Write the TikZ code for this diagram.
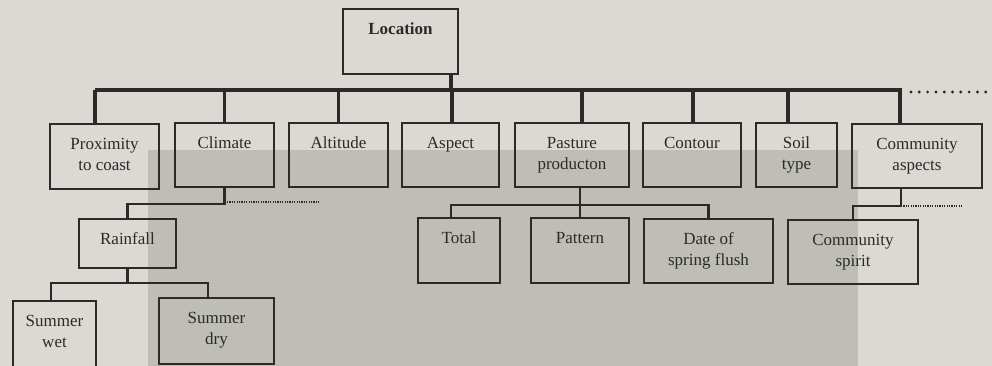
\documentclass[tikz,border=0pt]{standalone}
\usepackage{fontspec}
\setmainfont{Liberation Serif}
\definecolor{ink}{HTML}{2B2A27}
\definecolor{paper}{HTML}{DAD9D3}
\definecolor{panel}{HTML}{BEBEB7}
\tikzset{
	box/.style={draw=ink, text=ink, line width=1.9pt, anchor=north, inner xsep=2pt, inner ysep=0pt,
		align=center, text height=26pt, font=\fontsize{17}{21}\selectfont},
	twoline/.style={box, text height=47pt},
	bus/.style={draw=ink, line width=3.8pt},
	link/.style={draw=ink, line width=2.2pt},
	bigdots/.style={ink, line width=3.2pt, line cap=round, dash pattern=on 0pt off 8.3pt},
	smalldots/.style={ink, line width=1.6pt, dash pattern=on 1.2pt off 1.2pt},
}
\begin{document}
\begin{tikzpicture}[x=1pt, y=-1pt]
	\useasboundingbox (0,0) rectangle (992,366);
	\fill[paper] (0,0) rectangle (992,366);
	\fill[panel] (148,150) rectangle (858,366);

	% top
	\node[box, minimum width=115pt, text depth=39pt, font=\fontsize{17}{21}\selectfont\bfseries] (loc) at (400.5,8) {Location};

	% first row
	\node[twoline, minimum width=109pt, text depth=18pt] (prox) at (104.5,123) {Proximity\\to coast};
	\node[box, minimum width=99pt, text depth=38pt] (clim) at (224.5,122) {Climate};
	\node[box, minimum width=99pt, text depth=38pt] (alt) at (338.5,122) {Altitude};
	\node[box, minimum width=97pt, text depth=38pt] (asp) at (450.5,122) {Aspect};
	\node[twoline, minimum width=114pt, text depth=17pt] (past) at (572,122) {Pasture\\producton};
	\node[box, minimum width=98pt, text depth=38pt] (cont) at (692,122) {Contour};
	\node[twoline, minimum width=81pt, text depth=17pt] (soil) at (796.5,122) {Soil\\type};
	\node[twoline, minimum width=130pt, text depth=17pt] (comm) at (917,123) {Community\\aspects};

	% second row
	\node[box, minimum width=97pt, text depth=23pt] (rain) at (127.5,218) {Rainfall};
	\node[box, minimum width=82pt, text depth=39pt] (tot) at (459,217) {Total};
	\node[box, minimum width=98pt, text depth=39pt] (patt) at (580,217) {Pattern};
	\node[twoline, minimum width=129pt, text depth=17pt] (date) at (708.5,218) {Date of\\spring flush};
	\node[twoline, minimum width=130pt, text depth=17pt] (spir) at (853,219) {Community\\spirit};

	% third row
	\node[twoline, minimum width=83pt, text depth=23pt] (wet) at (54.5,300) {Summer\\wet};
	\node[twoline, minimum width=115pt, text depth=19pt] (dry) at (216.5,297) {Summer\\dry};

	% main bar
	\coordinate (busL) at (95,90);
	\coordinate (busR) at (900,90);
	\coordinate (dotsA) at (911,92);
	\coordinate (dotsB) at (992,92);
	\draw[bus] (busL) -- (busR);
	\draw[bigdots] (dotsA) -- (dotsB);
	\draw[bus] ([xshift=50.5]loc.south) |- (busL);
	\foreach \n/\o in {prox/-9.5, clim/0, alt/0, asp/1.5, past/10, cont/1, soil/-8.5, comm/-17}
	{
		\draw[bus] ([xshift=\o]\n.north) |- (busL);
	}

	% climate
	\coordinate (climDots) at (320,202);
	\draw[link] (clim.south) -- ++(0,16) -| (rain.north);
	\draw[smalldots] (clim.south |- climDots) -- (climDots);
	\draw[link] (rain.south) -- ++(0,14) coordinate (rainJ);
	\draw[link] ([xshift=-3.5]wet.north) |- (rainJ) -| ([xshift=-8.5]dry.north);

	% pasture
	\draw[link] ([xshift=8]past.south) -- (patt.north);
	\path ([xshift=8]past.south) ++(0,17) coordinate (pastJ);
	\draw[link] ([xshift=-8]tot.north) |- (pastJ) -| (date.north);

	% community
	\coordinate (commDots) at (963,204);
	\draw[link] ([xshift=-16]comm.south) -- ++(0,17) coordinate (commJ) -| (spir.north);
	\draw[smalldots] (commJ) -- (commJ -| commDots);
\end{tikzpicture}
\end{document}
